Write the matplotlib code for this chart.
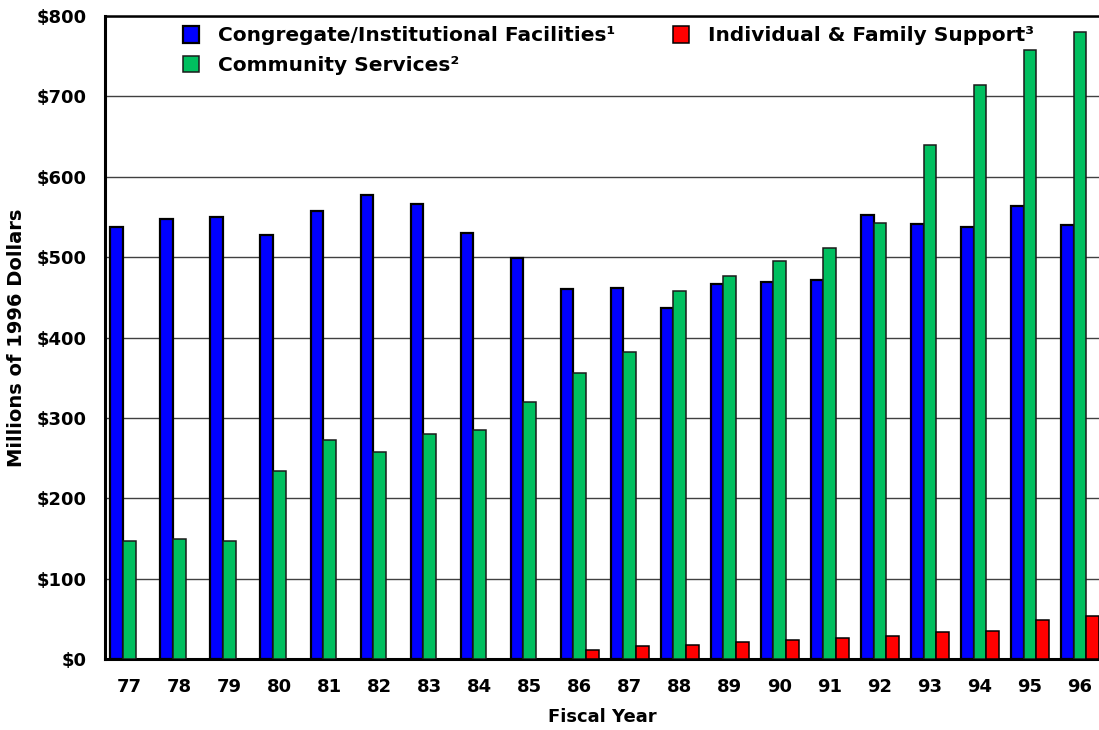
import numpy as np
import matplotlib.pyplot as plt
import matplotlib.ticker as tck

# Data (millions of 1996 dollars)
years = ["77", "78", "79", "80", "81", "82", "83", "84", "85", "86",
         "87", "88", "89", "90", "91", "92", "93", "94", "95", "96"]
congregate = [538, 547, 550, 528, 558, 577, 566, 530, 499, 460,
              461, 437, 466, 469, 471, 552, 541, 537, 564, 540]
community = [147, 149, 147, 234, 272, 258, 280, 285, 320, 356,
             382, 458, 476, 495, 511, 543, 639, 714, 758, 780]
individual = [0, 0, 0, 0, 0, 0, 0, 0, 0, 11,
              16, 18, 21, 23, 26, 28, 33, 35, 49, 54]

labels = ["Congregate/Institutional Facilities\u00b9",
          "Community Services\u00b2",
          "Individual & Family Support\u00b3"]

plt.rcParams['font.family'] = ['DejaVu Sans']
plt.rcParams['font.weight'] = 'bold'

fig = plt.figure(figsize=(10.99, 7.30), dpi=100)
ax = fig.add_axes([0.0955, 0.0973, 0.9045, 0.8807])

x = np.arange(len(years))
w = 0.254
b1 = ax.bar(x - w, congregate, w, color="#0000ff", edgecolor="black", linewidth=1.6, zorder=3)
b2 = ax.bar(x, community, w, color="#00bf5f", edgecolor="#1a1a1a", linewidth=1.1, zorder=3)
ind = np.array(individual, dtype=float)
ind_plot = np.where(ind > 0, ind, np.nan)
b3 = ax.bar(x + w, ind_plot, w, color="#ff0000", edgecolor="black", linewidth=1.1, zorder=3)

ax.set_xlim(-0.49, 19.38)
ax.set_ylim(0, 800)
ax.yaxis.set_major_locator(tck.MultipleLocator(100))
ax.yaxis.set_major_formatter(tck.FuncFormatter(lambda v, p: "${:,.0f}".format(v)))
ax.set_xticks(x)
ax.set_xticklabels(years)
ax.tick_params(axis="both", length=0, labelsize=13)
ax.tick_params(axis="x", pad=14)
ax.tick_params(axis="y", pad=13)

ax.grid(axis="y", color="#404040", linewidth=1.0, zorder=0)
ax.spines["right"].set_visible(False)
for s in ["left", "bottom"]:
    ax.spines[s].set_linewidth(2.2)
ax.spines["top"].set_linewidth(1.8)

ax.set_ylabel("Millions of 1996 Dollars", fontsize=14, fontweight="bold", labelpad=8)
ax.set_xlabel("Fiscal Year", fontsize=13, fontweight="bold", labelpad=8)

leg = ax.legend([b1, b2, b3], labels, ncol=2, loc="upper left",
                bbox_to_anchor=(0.060, 1.012), frameon=False,
                handlelength=0.8, handleheight=0.85, handletextpad=0.95,
                columnspacing=2.85, labelspacing=0.5,
                prop={"size": 14.5, "weight": "bold"})

fig.savefig("out.png", dpi=100)
